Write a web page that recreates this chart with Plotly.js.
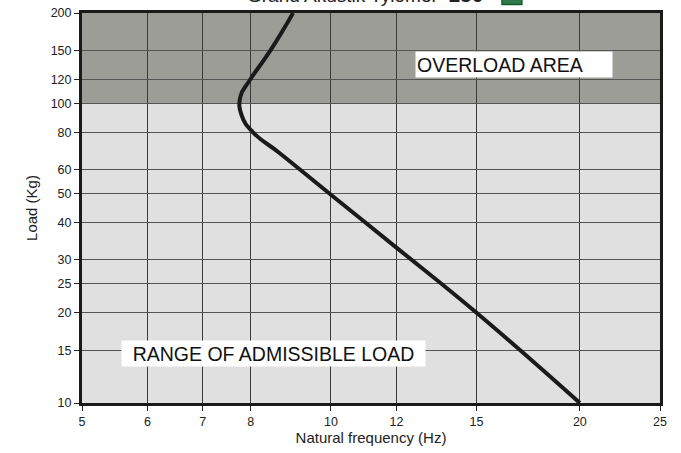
<!DOCTYPE html>
<html>
<head>
<meta charset="utf-8">
<script src="https://cdn.plot.ly/plotly-3.0.1.min.js"></script>
<style>html,body{margin:0;padding:0;background:#fff;}#chart{width:681px;height:453px;}</style>
</head>
<body>
<div id="chart"></div>
<script>
// Curve (natural frequency vs load)
const frequency = [9.0, 8.45, 7.98, 7.77, 7.8, 8.05, 8.68, 10, 12, 15, 20];
const load      = [200, 150, 119.5, 105, 91, 80, 68, 49.5, 33, 20, 10];

const xTicks = [5, 6, 7, 8, 10, 12, 15, 20, 25];
const xTickLabels = ["5", "6", "7", "8", "10", "12", "15", "20", "25"];
const yTicks = [10, 15, 20, 25, 30, 40, 50, 60, 80, 100, 120, 150, 200];
const yTickLabels = ["10", "15", "20", "25", "30", "40", "50", "60", "80", "100", "120", "150", "200"];

const xRange = [5, 25];
const yRange = [10, 200];
const overloadStart = 100;

const lg = Math.log10;
const yFrac = v => (lg(v) - lg(yRange[0])) / (lg(yRange[1]) - lg(yRange[0]));

const font = "Liberation Sans, Arial, Helvetica, sans-serif";

const trace = {
  x: frequency, y: load, type: "scatter", mode: "lines",
  line: {color: "#1a1a1a", width: 4, shape: "spline", smoothing: 1.3},
  hoverinfo: "skip", showlegend: false
};

const layout = {
  width: 681, height: 453,
  margin: {l: 82, r: 21, t: 13, b: 50},
  paper_bgcolor: "#ffffff",
  plot_bgcolor: "#e0e0e0",
  font: {family: font, color: "#222", size: 12},
  showlegend: false,
  xaxis: {
    type: "log", range: [lg(xRange[0]), lg(xRange[1])],
    tickmode: "array", tickvals: xTicks, ticktext: xTickLabels,
    ticks: "outside", ticklen: 5, tickcolor: "#222", tickwidth: 1,
    showline: true, mirror: true, linewidth: 3, linecolor: "#1a1a1a",
    showgrid: true, gridcolor: "#3a3a3a", gridwidth: 1, zeroline: false,
    tickfont: {size: 12.5, color: "#222"},
    title: {text: "Natural frequency (Hz)", font: {size: 15, color: "#222"}, standoff: 4}
  },
  yaxis: {
    type: "log", range: [lg(yRange[0]), lg(yRange[1])],
    tickmode: "array", tickvals: yTicks, ticktext: yTickLabels,
    ticks: "outside", ticklen: 5, tickcolor: "#222", tickwidth: 1,
    showline: true, mirror: true, linewidth: 3, linecolor: "#1a1a1a",
    showgrid: true, gridcolor: "#555", gridwidth: 1, zeroline: false,
    tickfont: {size: 12.5, color: "#222"},
    title: {text: "Load (Kg)", font: {size: 15, color: "#222"}, standoff: 10}
  },
  shapes: [
    {type: "rect", xref: "paper", yref: "paper", x0: 0, x1: 1,
     y0: yFrac(overloadStart), y1: yFrac(yRange[1]),
     fillcolor: "#9d9d97", line: {width: 0}, layer: "below"},
    {type: "rect", xref: "paper", yref: "paper", x0: 0.7266, x1: 0.761, y0: 1.022, y1: 1.06,
     fillcolor: "#2f7a4a", line: {color: "#165c30", width: 1.5}}
  ],
  annotations: [
    {xref: "paper", yref: "paper", x: 0.747, y: 0.869, xanchor: "center", yanchor: "middle",
     text: "OVERLOAD AREA", showarrow: false, bgcolor: "#ffffff", borderpad: 1,
     width: 194, height: 23, align: "left", font: {size: 19.5, color: "#111", family: font}},
    {xref: "paper", yref: "paper", x: 0.332, y: 0.128, xanchor: "center", yanchor: "middle",
     text: "RANGE OF ADMISSIBLE LOAD", showarrow: false, bgcolor: "#ffffff", borderpad: 1,
     width: 301, height: 23, align: "center", font: {size: 19.5, color: "#111", family: font}},
    {xref: "paper", yref: "paper", x: 0.4896, y: 1.012, xanchor: "center", yanchor: "bottom",
     text: "Grand Akustik Tylomer  <b><span style=\"font-size:21px\">150</span></b>", showarrow: false,
     font: {size: 19, color: "#222", family: font}}
  ]
};

Plotly.newPlot("chart", [trace], layout, {staticPlot: true, displayModeBar: false});
</script>
</body>
</html>
